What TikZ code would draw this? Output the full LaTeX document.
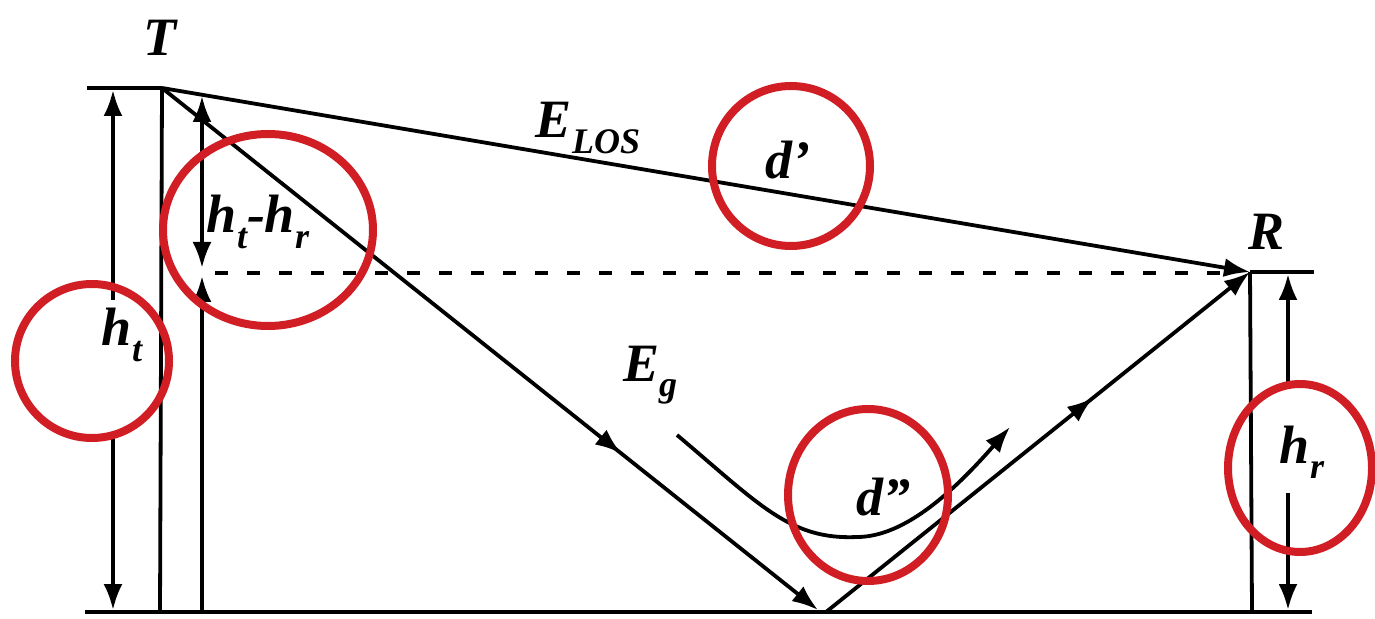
\documentclass[tikz,border=0pt]{standalone}
\usepackage{fontspec}
\setmainfont{Liberation Serif}
\usetikzlibrary{arrows.meta,decorations.markings}
\definecolor{ann}{RGB}{208,30,36}
\newcommand{\sbs}[1]{\raisebox{-0.28em}{\fontsize{18}{18}\selectfont #1}}
\begin{document}
\begin{tikzpicture}[x=0.5pt,y=-0.5pt,
  ln/.style={line width=1.9pt,black},
  tipend/.style={-{Latex[length=13pt,width=9.5pt]}},
  tipboth/.style={{Latex[length=13pt,width=9.5pt]}-{Latex[length=13pt,width=9.5pt]}},
  midarrow/.style={postaction={decorate},decoration={markings,mark=at position #1 with {\arrow{Latex[length=13pt,width=9.5pt]}}}},
  lab/.style={font=\fontsize{27}{27}\selectfont\bfseries\itshape,inner sep=0pt},
  circ/.style={draw=ann,line width=4pt}]
\useasboundingbox (0,0) rectangle (1375,619);
% coordinates
\coordinate (Tleft) at (87,88);
\coordinate (Ttop) at (162,88);
\coordinate (Tb) at (160,612);
\coordinate (Gl) at (85,612);
\coordinate (Gr) at (1312,612);
\coordinate (Rp) at (1250,272);
\coordinate (Rr) at (1314,272);
\coordinate (Rb) at (1252,612);
\coordinate (B) at (818,610);
\coordinate (B2) at (826,612);
\coordinate (htTop) at (113,90);
\coordinate (htA) at (113,300);
\coordinate (htB) at (113,435);
\coordinate (htBot) at (113,610);
\coordinate (dTop) at (202,96);
\coordinate (dMid) at (202,268);
\coordinate (dLow) at (202,276);
\coordinate (dBot) at (202,612);
\coordinate (hrTop) at (1288,274);
\coordinate (hrA) at (1288,383);
\coordinate (hrB) at (1288,493);
\coordinate (hrBot) at (1288,610);
\coordinate (dashL) at (215,273);
\coordinate (dashR) at (1238,273);
\coordinate (cS) at (677,435);
\coordinate (cM) at (857,537);
\coordinate (cE) at (1010,427);
% lines
\draw[ln] (Tleft) -- (Ttop);
\draw[ln] (Ttop) -- (Tb);
\draw[line width=2.4pt] (Gl) -- (Gr);
\draw[ln] (Rp) -- (Rr);
\draw[ln] (Rp) -- (Rb);
\draw[ln,tipend] (htA) -- (htTop);
\draw[ln,tipend] (htB) -- (htBot);
\draw[ln,tipboth] (dTop) -- (dMid);
\draw[ln,tipend] (dBot) -- (dLow);
\draw[ln,tipend] (hrA) -- (hrTop);
\draw[ln,tipend] (hrB) -- (hrBot);
\draw[line width=2pt,dash pattern=on 6.5pt off 9.5pt] (dashL) -- (dashR);
\draw[ln,tipend] (Ttop) -- (Rp);
\draw[ln,tipend,midarrow=0.7] (Ttop) -- (B);
\draw[ln,tipend,midarrow=0.63] (B2) -- (Rp);
\draw[ln,tipend] (cS) .. controls (760,505) and (790,540) .. (cM) .. controls (905,537) and (955,490) .. (cE);
% labels
\node[lab] (T) at (160,38) {T};
\node[lab] (R) at (1266,232) {R};
\node[lab] (ELOS) at (588,128) {E\sbs{LOS}};
\node[lab] (dp) at (788,160) {d'};
\node[lab] (dpp) at (883,497) {d''};
\node[lab] (hthr) at (258,222) {h\sbs{t}-h\sbs{r}};
\node[lab] (ht) at (122,335) {h\sbs{t}};
\node[lab] (Eg) at (650,375) {E\sbs{g}};
\node[lab] (hr) at (1302,452) {h\sbs{r}};
% red annotation circles
\draw[circ] (92,361) ellipse [x radius=77, y radius=77];
\draw[circ] (268,230) ellipse [x radius=105, y radius=96];
\draw[circ] (791,166) ellipse [x radius=79, y radius=80];
\draw[circ] (868,495) ellipse [x radius=80, y radius=86];
\draw[circ] (1300,468) ellipse [x radius=72, y radius=84];
\end{tikzpicture}
\end{document}
